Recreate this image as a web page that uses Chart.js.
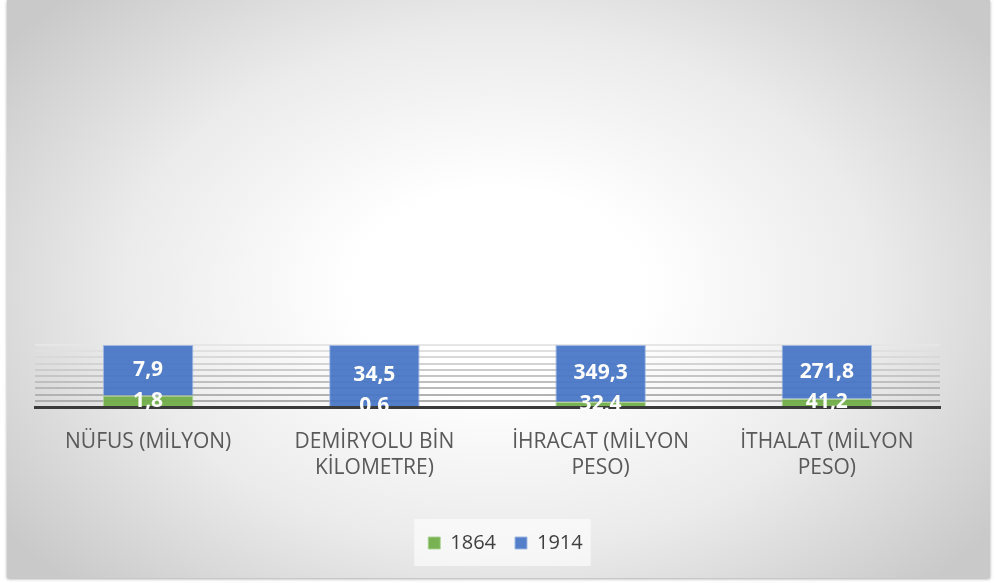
<!DOCTYPE html>
<html>
<head>
<meta charset="utf-8">
<script src="https://cdn.jsdelivr.net/npm/chart.js@4/dist/chart.umd.min.js"></script>
<style>
    body { margin: 0; background: #ffffff; }
    #frame {
        position: absolute; left: 7px; top: 0px; width: 983px; height: 578px;
        background: radial-gradient(ellipse 62% 72% at 50% 50%, #ffffff 0%, #ffffff 24%, #ebebeb 62%, #c9c9c9 100%);
        box-shadow: 0 1px 3px rgba(0,0,0,0.35);
    }
</style>
</head>
<body>
<div id="frame"><canvas id="newchart"></canvas></div>
<script>
// categories and values
var categories = [
    ["NÜFUS (MİLYON)"],
    ["DEMİRYOLU BİN", "KİLOMETRE)"],
    ["İHRACAT (MİLYON", "PESO)"],
    ["İTHALAT (MİLYON", "PESO)"]
];
var values1864 = [1.8, 0.6, 32.4, 41.2];
var values1914 = [7.9, 34.5, 349.3, 271.8];
var seriesLabels = ["1864", "1914"];
var yTicks = [0, 10, 20, 30, 40, 50, 60, 70, 80, 90, 100];

// 100% stacked shares
function share(a, b) {
    return a.map(function (v, i) { return v / (v + b[i]) * 100; });
}
var share1864 = share(values1864, values1914);
var share1914 = share(values1914, values1864);
var rawValues = [values1864, values1914];

// white value labels in the middle of each segment
var valueLabels = {
    id: "valueLabels",
    afterDatasetsDraw: function (chart) {
        var ctx = chart.ctx;
        var area = chart.chartArea;
        ctx.save();
        ctx.beginPath();
        ctx.rect(0, 0, chart.width, area.bottom + 3);
        ctx.clip();
        ctx.fillStyle = "#ffffff";
        ctx.font = "bold 21px 'Open Sans'";
        ctx.textAlign = "center";
        ctx.textBaseline = "middle";
        chart.data.datasets.forEach(function (ds, d) {
            chart.getDatasetMeta(d).data.forEach(function (bar, i) {
                var p = bar.getProps(["x", "y", "base"], true);
                ctx.fillText(String(rawValues[d][i]).replace(".", ","), p.x, (p.y + p.base) / 2);
            });
        });
        ctx.restore();
    }
};

// white box behind the legend
var legendBox = {
    id: "legendBox",
    beforeDraw: function (chart) {
        var boxes = chart.legend.legendHitBoxes;
        if (!boxes || !boxes.length) return;
        var first = boxes[0];
        var last = boxes[boxes.length - 1];
        var mid = first.top + first.height / 2;
        var ctx = chart.ctx;
        ctx.save();
        ctx.fillStyle = "rgba(255,255,255,0.6)";
        ctx.fillRect(first.left - 14, mid - 24, last.left + last.width - first.left + 22, 47);
        ctx.restore();
    }
};

var canvasElement = document.getElementById("newchart");
var config = {
    type: "bar",
    data: {
        labels: categories,
        datasets: [{
                label: seriesLabels[0],
                data: share1864,
                backgroundColor: "rgba(112,173,71,0.94)",
                borderColor: "rgba(170,210,145,0.9)",
                borderWidth: 1
            },
            {
                label: seriesLabels[1],
                data: share1914,
                backgroundColor: "rgba(70,117,198,0.93)",
                borderColor: "rgba(160,182,226,0.95)",
                borderWidth: 1
            }
        ]
    },
    options: {
        responsive: true,
        maintainAspectRatio: false,
        animation: false,
        datasets: {
            bar: {
                categoryPercentage: 1,
                barPercentage: 0.4
            }
        },
        layout: {
            padding: { left: 28, right: 14, top: 345, bottom: 15 }
        },
        plugins: {
            legend: {
                position: "bottom",
                labels: {
                    boxWidth: 12,
                    boxHeight: 12,
                    padding: 19,
                    color: "#3f3f3f",
                    font: { size: 20, family: "'Open Sans'" }
                }
            },
            tooltip: { enabled: false }
        },
        scales: {
            x: {
                stacked: true,
                z: 1,
                grid: { display: false },
                border: { color: "#3a3a3a", width: 3 },
                ticks: {
                    color: "#595959",
                    padding: 14,
                    font: { size: 21, family: "'Open Sans'", lineHeight: 1.24 }
                },
                afterFit: function (axis) { axis.height = 107; }
            },
            y: {
                stacked: true,
                position: "right",
                min: 0,
                max: 100,
                afterBuildTicks: function (axis) {
                    axis.ticks = yTicks.map(function (v) { return { value: v }; });
                },
                ticks: { display: false },
                border: { display: false },
                grid: {
                    drawTicks: false,
                    lineWidth: 2,
                    color: function (c) {
                        var t = c.tick ? c.tick.value / 100 : 0;
                        var g = Math.round(165 + t * 65);
                        return "rgb(" + g + "," + g + "," + g + ")";
                    }
                },
                afterFit: function (axis) { axis.width = 36; }
            }
        }
    },
    plugins: [legendBox, valueLabels]
};
var newchart = new Chart(canvasElement, config);
</script>
</body>
</html>
